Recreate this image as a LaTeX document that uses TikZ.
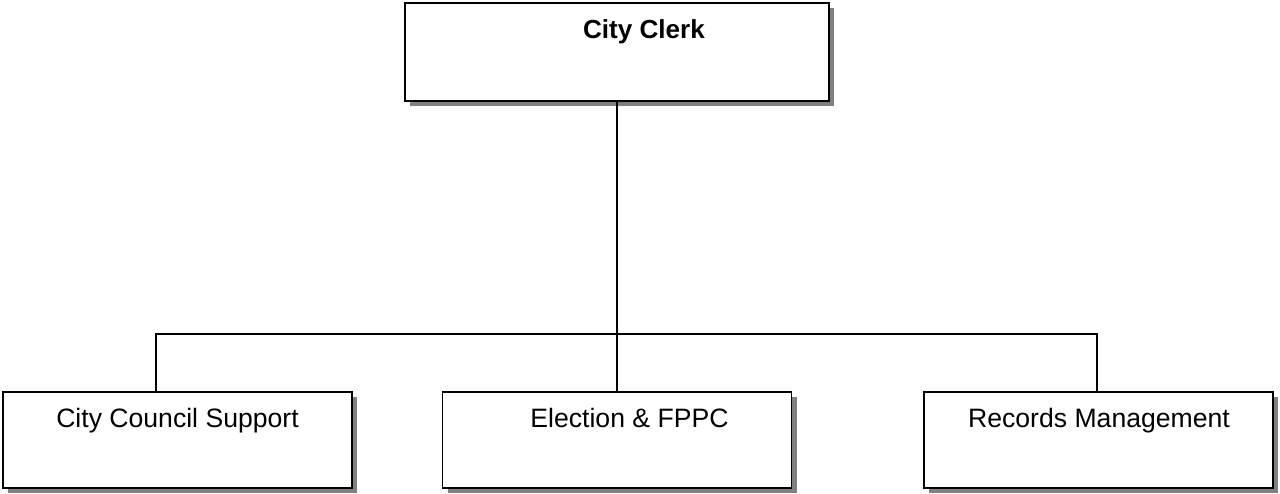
\documentclass[tikz,border=0pt]{standalone}
\usepackage{fontspec}
\setmainfont{Liberation Sans}
\usetikzlibrary{shadows}
\tikzset{
  orgbox/.style={draw=black, line width=1.6pt, fill=white, rectangle, inner sep=0pt,
    drop shadow={shadow xshift=5pt, shadow yshift=-5pt, fill=black!50, opacity=1}},
  orgtext/.style={font=\fontsize{26.6}{30}\selectfont, inner sep=0pt, anchor=base},
  link/.style={draw=black, line width=1.6pt}
}
\begin{document}
\begin{tikzpicture}[x=1pt,y=-1pt]
\useasboundingbox (0,0) rectangle (1280,494);
\node[orgbox, minimum width=424pt, minimum height=98pt] (clerk) at (617,52) {};
\node[orgtext, font=\bfseries\fontsize{26.1}{30}\selectfont] (clerkt) at (644,38.5) {City Clerk};
\node[orgbox, minimum width=349pt, minimum height=96pt] (council) at (177.5,440) {};
\node[orgtext] (councilt) at (177.5,427) {City Council Support};
\node[orgbox, minimum width=349pt, minimum height=96pt] (election) at (617,440) {};
\node[orgtext] (electiont) at (629.5,427) {Election \& FPPC};
\node[orgbox, minimum width=349pt, minimum height=96pt] (records) at (1098.5,440) {};
\node[orgtext] (recordst) at (1099,427) {Records Management};
\coordinate (bus) at (617,334);
\draw[link] (clerk.south) -- (election.north);
\draw[link] (council.north -| 156,0) |- (bus) -| (records.north -| 1097,0);
\end{tikzpicture}
\end{document}
